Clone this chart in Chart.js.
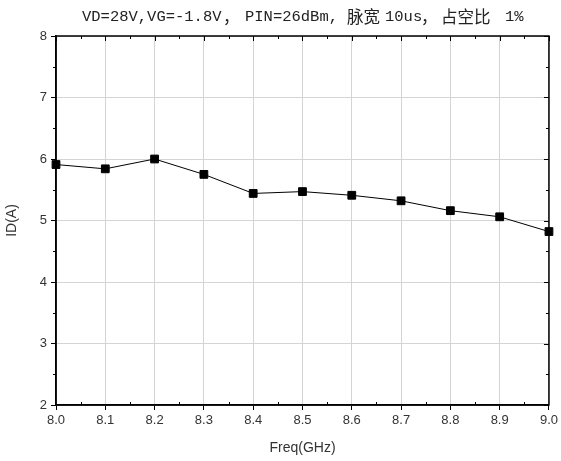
<!DOCTYPE html>
<html>
<head>
<meta charset="utf-8">
<script src="https://cdn.jsdelivr.net/npm/chart.js@4"></script>
<style>
  html, body { margin: 0; padding: 0; background: #fff; }
  #wrap { width: 561px; height: 461px; }
</style>
</head>
<body>
<div id="wrap"><canvas id="idChart" width="561" height="461"></canvas></div>
<script>
const freq = [8.0, 8.1, 8.2, 8.3, 8.4, 8.5, 8.6, 8.7, 8.8, 8.9, 9.0];
const current = [5.91, 5.84, 6.0, 5.75, 5.44, 5.47, 5.41, 5.32, 5.16, 5.06, 4.82];
const xMinorTicks = [8.05, 8.15, 8.25, 8.35, 8.45, 8.55, 8.65, 8.75, 8.85, 8.95];
const yMinorTicks = [2.5, 3.5, 4.5, 5.5, 6.5, 7.5];
// title pieces: latin is monospaced, chinese full width (SimSun look)
const titleParts = [
    ['VD=28V,VG=-1.8V', 'latin', 82],
    ['，', 'cjk', 223],
    ['PIN=26dBm,', 'latin', 245],
    ['脉宽', 'cjk', 347],
    ['10us', 'latin', 385],
    ['，', 'cjk', 421],
    ['占空比', 'cjk', 441],
    ['1%', 'latin', 505]
];

const fonts = {
    latin: '15.5px "Liberation Mono", "DejaVu Sans Mono", monospace',
    cjk: '16.5px "Noto Sans CJK SC", sans-serif'
};

// frame, inner ticks on top/right, minor ticks, title
const framePlugin = {
    id: 'frame',
    afterDraw(chart) {
        const ctx = chart.ctx;
        const a = chart.chartArea;
        const xs = chart.scales.x;
        const ys = chart.scales.y;
        ctx.save();
        ctx.strokeStyle = '#000';
        ctx.lineWidth = 1.5;
        ctx.strokeRect(a.left, a.top, a.right - a.left, a.bottom - a.top);

        ctx.lineWidth = 1;
        ctx.beginPath();
        xs.ticks.forEach(t => {
            const px = Math.round(xs.getPixelForValue(t.value)) + 0.5;
            ctx.moveTo(px, a.top); ctx.lineTo(px, a.top + 5);
        });
        xMinorTicks.forEach(v => {
            const px = Math.round(xs.getPixelForValue(v)) + 0.5;
            ctx.moveTo(px, a.bottom); ctx.lineTo(px, a.bottom - 3);
            ctx.moveTo(px, a.top); ctx.lineTo(px, a.top + 3);
        });
        ys.ticks.forEach(t => {
            const py = Math.round(ys.getPixelForValue(t.value)) + 0.5;
            ctx.moveTo(a.right, py); ctx.lineTo(a.right - 5, py);
        });
        yMinorTicks.forEach(v => {
            const py = Math.round(ys.getPixelForValue(v)) + 0.5;
            ctx.moveTo(a.left, py); ctx.lineTo(a.left - 3, py);
            ctx.moveTo(a.right, py); ctx.lineTo(a.right - 3, py);
        });
        ctx.stroke();

        // title
        ctx.fillStyle = '#222';
        ctx.textAlign = 'left';
        ctx.textBaseline = 'middle';
        titleParts.forEach(([txt, kind, x]) => {
            ctx.font = fonts[kind];
            ctx.fillText(txt, x, 17);
        });
        ctx.restore();
    }
};

new Chart(document.getElementById('idChart'), {
    type: 'line',
    data: {
        datasets: [{
            data: freq.map((f, i) => ({ x: f, y: current[i] })),
            borderColor: '#000',
            backgroundColor: '#000',
            borderWidth: 1,
            pointStyle: 'rect',
            pointRadius: 5.5,
            pointHoverRadius: 5.5,
            tension: 0,
            clip: false
        }]
    },
    options: {
        responsive: false,
        animation: false,
        layout: { padding: { top: 36, right: 10, left: 0, bottom: 0 } },
        plugins: {
            legend: { display: false },
            tooltip: { enabled: false }
        },
        scales: {
            x: {
                type: 'linear',
                min: 8,
                max: 9,
                ticks: {
                    stepSize: 0.1,
                    color: '#333',
                    font: { family: '"Liberation Sans", Arial, sans-serif', size: 13 },
                    padding: 3,
                    maxRotation: 0,
                    callback: v => Number(v).toFixed(1)
                },
                grid: { color: '#d4d4d4', lineWidth: 1, tickColor: '#000', tickLength: 5 },
                border: { color: '#000', width: 1.5 },
                title: {
                    display: true,
                    text: 'Freq(GHz)',
                    color: '#333',
                    font: { family: '"Liberation Sans", Arial, sans-serif', size: 14 },
                    padding: { top: 4 }
                },
                afterFit: s => { s.height = 56; }
            },
            y: {
                min: 2,
                max: 8,
                ticks: {
                    stepSize: 1,
                    color: '#333',
                    font: { family: '"Liberation Sans", Arial, sans-serif', size: 13 },
                    padding: 4
                },
                grid: { color: '#d4d4d4', lineWidth: 1, tickColor: '#000', tickLength: 5 },
                border: { color: '#000', width: 1.5 },
                title: {
                    display: true,
                    text: 'ID(A)',
                    color: '#333',
                    font: { family: '"Liberation Sans", Arial, sans-serif', size: 14 },
                    padding: { bottom: 6 }
                },
                afterFit: s => { s.width = 56; }
            }
        }
    },
    plugins: [framePlugin]
});
</script>
</body>
</html>
